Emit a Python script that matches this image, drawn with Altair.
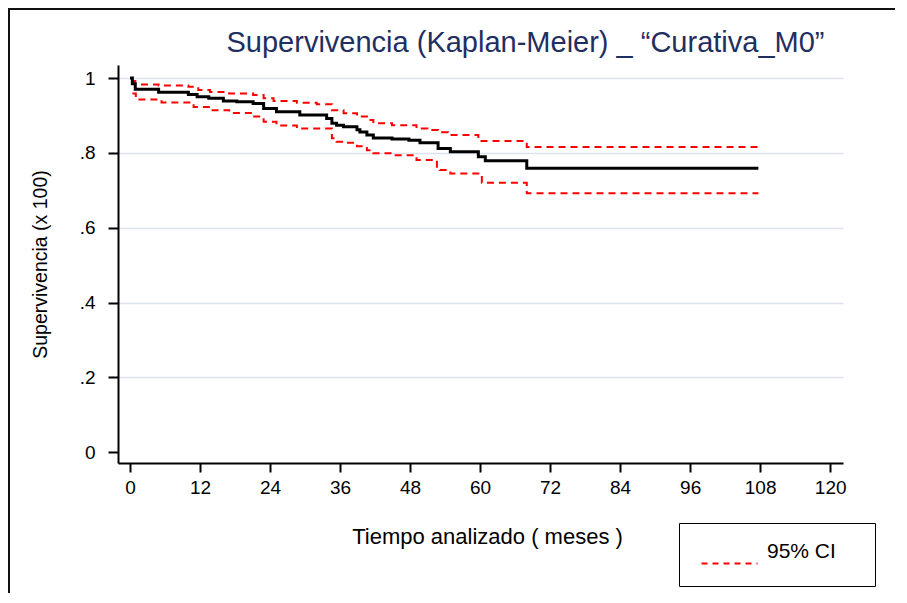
import altair as alt
import pandas as pd

# Kaplan-Meier estimate (step start times in months, survival)
km_t = [0, 0.4, 0.9, 4.9, 10.0, 11.5, 13.5, 16.0, 18.3, 21.1, 22.9, 25.1, 29.1, 33.7,
        34.6, 35.4, 36.6, 38.9, 39.4, 40.6, 41.7, 44.9, 47.8, 49.7, 52.8, 54.9, 59.7,
        60.9, 68.0, 107.7]
km_s = [1.0, 0.985, 0.970, 0.962, 0.956, 0.950, 0.946, 0.939, 0.937, 0.932, 0.919, 0.910,
        0.901, 0.892, 0.879, 0.874, 0.870, 0.862, 0.856, 0.848, 0.840, 0.837, 0.834, 0.827,
        0.812, 0.803, 0.790, 0.779, 0.759, 0.759]

# Upper 95% CI
up_t = [0.4, 0.9, 4.9, 10.0, 11.7, 13.7, 17.0, 21.1, 22.9, 24.6, 28.6, 32.0, 34.6, 36.6,
        38.9, 40.6, 41.7, 44.9, 49.1, 51.0, 52.8, 54.5, 59.7, 68.0, 107.7]
up_s = [0.992, 0.983, 0.980, 0.977, 0.968, 0.963, 0.959, 0.955, 0.946, 0.939, 0.934, 0.930,
        0.914, 0.906, 0.897, 0.888, 0.879, 0.874, 0.865, 0.861, 0.855, 0.848, 0.832, 0.816,
        0.816]

# Lower 95% CI
lo_t = [0.4, 1.0, 5.4, 10.9, 13.7, 17.0, 21.1, 22.9, 25.1, 28.6, 34.6, 35.4, 36.6, 38.9,
        40.6, 41.7, 44.9, 49.1, 52.6, 53.1, 54.9, 60.3, 68.0, 107.7]
lo_s = [0.959, 0.943, 0.935, 0.923, 0.914, 0.907, 0.897, 0.883, 0.873, 0.865, 0.839, 0.830,
        0.827, 0.818, 0.807, 0.799, 0.794, 0.781, 0.759, 0.754, 0.745, 0.720, 0.692, 0.692]

x_ticks = [0, 12, 24, 36, 48, 60, 72, 84, 96, 108, 120]
y_ticks = [0, 0.2, 0.4, 0.6, 0.8, 1.0]

km = pd.DataFrame({"t": km_t, "s": km_s})
ci = pd.concat([
    pd.DataFrame({"t": up_t, "s": up_s, "bound": "upper"}),
    pd.DataFrame({"t": lo_t, "s": lo_s, "bound": "lower"}),
])
ci["band"] = "95% CI"

FONT = "Liberation Sans"

x_enc = alt.X(
    "t:Q",
    scale=alt.Scale(domain=[-2.06, 122.2], nice=False, zero=False),
    axis=alt.Axis(values=x_ticks, title="Tiempo analizado ( meses )", grid=False,
                  tickSize=9, labelPadding=6, titlePadding=29, titleFontSize=22,
                  titleX=369),
)
y_enc = alt.Y(
    "s:Q",
    scale=alt.Scale(domain=[-0.029, 1.035], nice=False, zero=False),
    axis=alt.Axis(
        values=y_ticks,
        title="Supervivencia (x 100)",
        labelExpr="datum.value == 0 ? '0' : (datum.value == 1 ? '1' : replace(format(datum.value, '.1f'), '0.', '.'))",
        grid=True,
        gridColor="#dde2ee",
        gridWidth=1.5,
        gridOpacity={"condition": {"test": "datum.value === 0", "value": 0}, "value": 1},
        tickSize=10,
        labelPadding=13,
        titlePadding=29,
        titleFontSize=19.5,
    ),
)

frame = alt.Chart(pd.DataFrame({"k": [0]})).mark_rect(
    filled=False, stroke="#111111", strokeWidth=2
).encode(
    x=alt.value(-109), x2=alt.value(900), y=alt.value(-56), y2=alt.value(620)
)

ci_lines = alt.Chart(ci).mark_line(
    interpolate="step-after", strokeWidth=2, strokeDash=[7, 5]
).encode(
    x=x_enc,
    y=y_enc,
    detail="bound:N",
    color=alt.Color(
        "band:N",
        scale=alt.Scale(range=["#ff0000"]),
        legend=alt.Legend(
            title="·",
            titleOrient="right",
            titleColor="white",
            titleFontSize=10,
            titlePadding=17,
            orient="none",
            legendX=561,
            legendY=458,
            padding=18,
            strokeColor="black",
            symbolType="M-5.6,2.4h11.2",
            symbolSize=100,
            symbolStrokeWidth=2,
            symbolDash=[6, 5],
            symbolOffset=22,
            labelOffset=27,
            labelFont=FONT,
            labelFontSize=21,
            labelColor="black",
            labelBaseline="middle",
        ),
    ),
)

km_line = alt.Chart(km).mark_line(
    interpolate="step-after", strokeWidth=3, color="black"
).encode(x=x_enc, y=y_enc)

chart = alt.layer(frame, ci_lines, km_line).properties(
    width=725,
    height=398,
    background="white",
    autosize=alt.AutoSizeParams(type="none"),
    padding={"left": 110, "top": 57, "right": 52, "bottom": 130},
    title=alt.TitleParams(
        text="Supervivencia (Kaplan-Meier) _ “Curativa_M0”",
        font=FONT,
        fontSize=29,
        fontWeight="normal",
        color="#1f2f5f",
        anchor="middle",
        dx=45,
        offset=-73,
        baseline="alphabetic",
    ),
).configure_view(strokeWidth=0).configure_axis(
    domainColor="black",
    domainWidth=2,
    tickColor="black",
    tickWidth=2,
    labelFont=FONT,
    labelFontSize=19,
    labelColor="black",
    titleFont=FONT,
    titleFontSize=20,
    titleFontWeight="normal",
    titleColor="black",
)

chart.save("out.html", embed_options={"renderer": "svg", "actions": False})
